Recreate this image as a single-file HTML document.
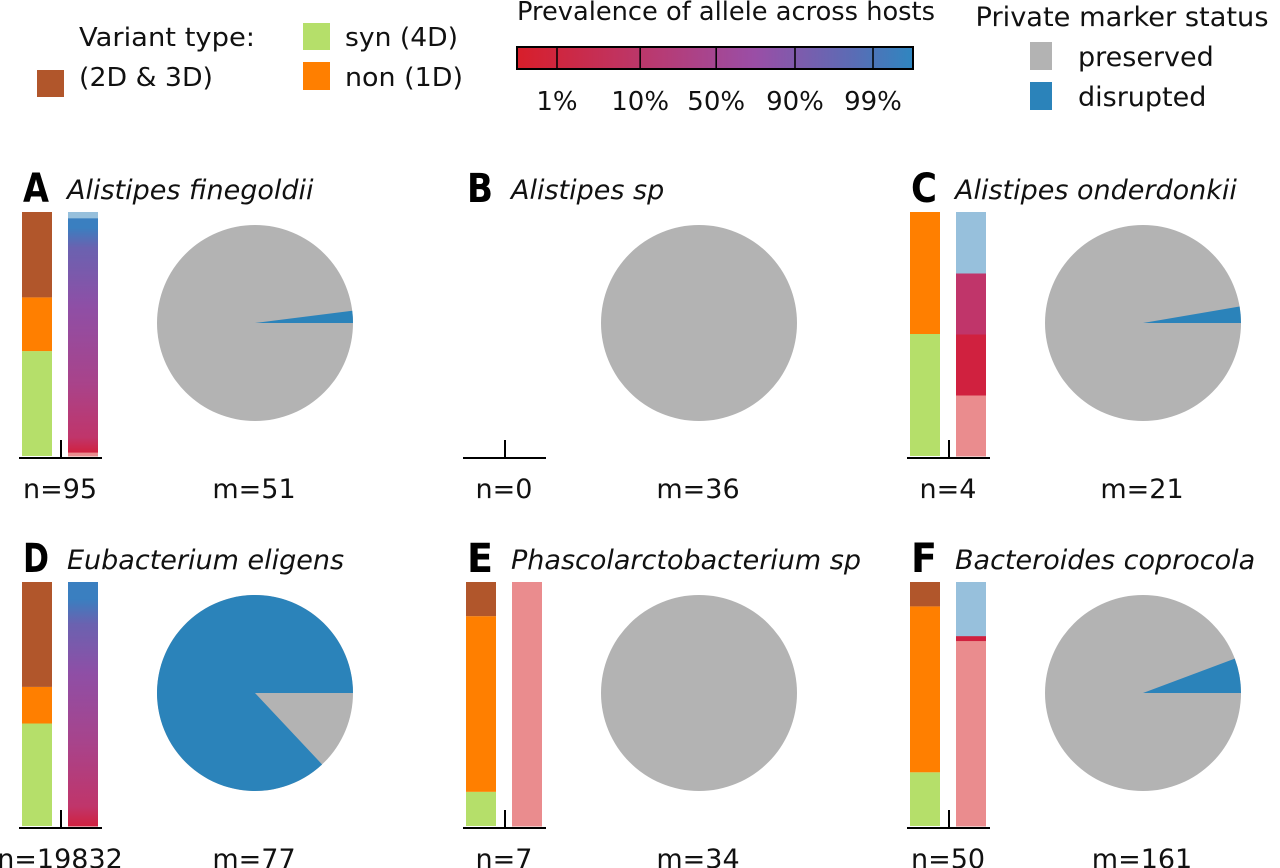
<!DOCTYPE html>
<html><head><meta charset="utf-8">
<style>
html,body{margin:0;padding:0;background:#fff;}
svg{display:block;font-family:"DejaVu Sans","Liberation Sans",sans-serif;}
</style></head>
<body>
<svg id="fig" width="1280" height="868" viewBox="0 0 1280 868" xmlns="http://www.w3.org/2000/svg">
<defs>
<linearGradient id="cbar" x1="0" x2="1" y1="0" y2="0">
<stop offset="0" stop-color="#d81e2a"/><stop offset="0.35" stop-color="#b83a72"/><stop offset="0.6" stop-color="#9a4ea6"/><stop offset="0.85" stop-color="#5a6cb5"/><stop offset="1" stop-color="#2f86c0"/>
</linearGradient>
</defs>
<g font-size="26" fill="#111">
<text x="79" y="46" textLength="176" lengthAdjust="spacingAndGlyphs">Variant type:</text>
<rect x="37" y="70" width="27" height="27" fill="#b1562b"/>
<text x="79" y="86" textLength="134" lengthAdjust="spacingAndGlyphs">(2D &amp; 3D)</text>
<rect x="303" y="23" width="27" height="27" fill="#b5df6a"/>
<text x="345" y="46" textLength="113" lengthAdjust="spacingAndGlyphs">syn (4D)</text>
<rect x="303" y="62" width="27" height="28" fill="#ff7f00"/>
<text x="345" y="86" textLength="118" lengthAdjust="spacingAndGlyphs">non (1D)</text>
</g>
<g fill="#111">
<text x="726" y="20" font-size="26" text-anchor="middle" textLength="418" lengthAdjust="spacingAndGlyphs">Prevalence of allele across hosts</text>
<rect x="517" y="47" width="396" height="22" fill="url(#cbar)" stroke="#000" stroke-width="2"/>
<g id="cbticks"></g>
</g>
<g font-size="27" fill="#111">
<text x="1122" y="26" text-anchor="middle" textLength="293" lengthAdjust="spacingAndGlyphs">Private marker status</text>
<rect x="1030" y="42" width="22" height="28" fill="#b3b3b3"/>
<text x="1078" y="66">preserved</text>
<rect x="1030" y="82" width="22" height="28" fill="#2b83ba"/>
<text x="1078" y="106">disrupted</text>
</g>
<g id="panels"></g>
</svg>
<script>
const cbTickLabels = ["1%","10%","50%","90%","99%"];
const cbTickPos = [0.101,0.311,0.503,0.702,0.899];
const panelLetters = ["A","B","C","D","E","F"];
const speciesNames = ["Alistipes finegoldii","Alistipes sp","Alistipes onderdonkii","Eubacterium eligens","Phascolarctobacterium sp","Bacteroides coprocola"];
const nValues = [95,0,4,19832,7,50];
const mValues = [51,36,21,77,34,161];
// variant fractions from bottom: syn, non, 2D&3D
const synFrac = [0.43,0,0.5,0.42,0.14,0.22];
const nonFrac = [0.22,0,0.5,0.15,0.72,0.68];
const d23Frac = [0.35,0,0,0.43,0.14,0.10];
// prevalence bins from bottom (rare -> fixed)
const prevColors = ["#ea8c8e","#d0213f","#c0356a","#a9438a","#8e4fa6","#6a62b0","#3a7fc0","#97c0dc"];
const prevA = [0.016,0.06,0.22,0.32,0.24,0.08,0.04,0.024];
const prevB = [0,0,0,0,0,0,0,0];
const prevC = [0.25,0.25,0.25,0,0,0,0,0.25];
const prevD = [0,0.08,0.25,0.3,0.2,0.1,0.07,0];
const prevE = [1,0,0,0,0,0,0,0];
const prevF = [0.76,0.02,0,0,0,0,0,0.22];
const prevData = [prevA,prevB,prevC,prevD,prevE,prevF];
const gradientPanel = [true,false,false,true,false,false];
// disrupted marker fraction
const disruptedFrac = [0.02,0,0.027,0.87,0,0.057];

const NS="http://www.w3.org/2000/svg";
function mk(tag,attrs,parent){const e=document.createElementNS(NS,tag);for(const k in attrs)e.setAttribute(k,attrs[k]);parent.appendChild(e);return e;}

const cbg=document.getElementById('cbticks');
const cbX=v=>517+v*396;
cbTickPos.forEach((p,i)=>{
  const t=mk('line',{x1:cbX(p),x2:cbX(p),y1:47,y2:69,stroke:'#000','stroke-width':1.5},cbg);
  
  
  const l=mk('text',{x:cbX(p),y:110,'text-anchor':'middle','font-size':26},cbg);
  l.textContent=cbTickLabels[i];
  
  
});

const pg=document.getElementById('panels');
let gid=0;
for(let i=0;i<6;i++){
  const ox=(i%3)*444, oy=Math.floor(i/3)*370;
  const g=mk('g',{transform:`translate(${ox},${oy})`},pg);
  
  
  const L=mk('text',{x:23,y:202,'font-size':40,'font-weight':'bold',fill:'#000',textLength:26,lengthAdjust:'spacingAndGlyphs'},g);
  L.textContent=panelLetters[i];
  
  
  const S=mk('text',{x:67,y:199,'font-size':27,'font-style':'italic',fill:'#111'},g);
  S.textContent=speciesNames[i];
  
  
  const top=212,bot=456,H=bot-top;
  const yS=f=>bot-f*H;
  let acc=0;
  [[synFrac[i],'#b5df6a','syn'],[nonFrac[i],'#ff7f00','non'],[d23Frac[i],'#b1562b','2d3d']].forEach(s=>{
    if(s[0]<=0)return;
    const r=mk('rect',{x:22,y:yS(acc+s[0]),width:30,height:s[0]*H,fill:s[1]},g);
    
    
    acc+=s[0];
  });
  acc=0;
  const pd=prevData[i];
  pd.forEach((f,k)=>{
    if(f<=0)return;
    let fill=prevColors[k];
    if(gradientPanel[i]&&k>0&&k<prevColors.length-1){
      const id='pg'+(gid++);
      const lg=mk('linearGradient',{id:id,x1:0,x2:0,y1:1,y2:0},document.querySelector('defs'));
      mk('stop',{offset:0,'stop-color':prevColors[k]},lg);
      mk('stop',{offset:1,'stop-color':prevColors[Math.min(k+1,prevColors.length-2)]},lg);
      fill=`url(#${id})`;
    }
    const r=mk('rect',{x:68,y:yS(acc+f),width:30,height:f*H+0.5,fill:fill},g);
    
    
    acc+=f;
  });
  const ax=mk('path',{d:`M19 458 H102 M61 458 V440`,stroke:'#000','stroke-width':2,fill:'none'},g);
  
  
  const nt=mk('text',{x:60,y:498,'font-size':27,'text-anchor':'middle',fill:'#111'},g);
  nt.textContent='n='+nValues[i];
  
  
  const cx=255,cy=323,R=98;
  const pie=mk('circle',{cx:cx,cy:cy,r:R,fill:'#b3b3b3'},g);
  
  
  const df=disruptedFrac[i];
  if(df>0){
    const a=df*2*Math.PI;
    const x2=cx+R*Math.cos(a),y2=cy-R*Math.sin(a);
    const large=df>0.5?1:0;
    const w=mk('path',{d:`M${cx} ${cy} L${cx+R} ${cy} A${R} ${R} 0 ${large} 0 ${x2} ${y2} Z`,fill:'#2b83ba'},g);
    
    
  }
  const mt=mk('text',{x:254,y:498,'font-size':27,'text-anchor':'middle',fill:'#111'},g);
  mt.textContent='m='+mValues[i];
  
  
}
</script>
</body></html>
